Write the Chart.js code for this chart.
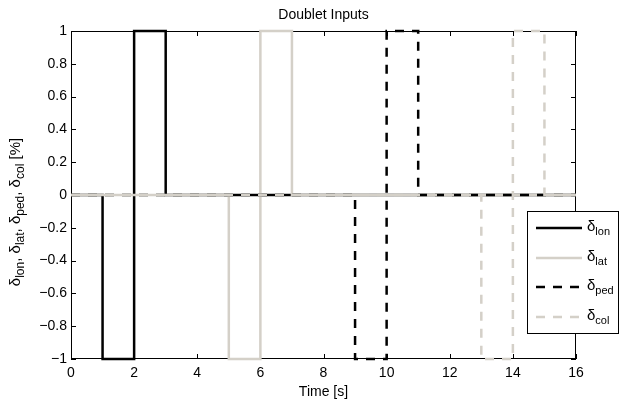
<!DOCTYPE html>
<html>
<head>
<meta charset="utf-8">
<script src="https://cdn.jsdelivr.net/npm/chart.js@4/dist/chart.umd.min.js"></script>
<style>
  html, body { margin: 0; padding: 0; background: #fff; }
  #wrap { width: 620px; height: 401px; position: relative; }
</style>
</head>
<body>
<div id="wrap"><canvas id="doublet"></canvas></div>
<script>
// Doublet inputs (step times in s, held values)
const lonT = [0, 1, 2, 3, 16];
const lonV = [0, -1, 1, 0, 0];
const latT = [0, 5, 6, 7, 16];
const latV = [0, -1, 1, 0, 0];
const pedT = [0, 9, 10, 11, 16];
const pedV = [0, -1, 1, 0, 0];
const colT = [0, 13, 14, 15, 16];
const colV = [0, -1, 1, 0, 0];

const xTicks = [0, 2, 4, 6, 8, 10, 12, 14, 16];
const yTicks = [-1, -0.8, -0.6, -0.4, -0.2, 0, 0.2, 0.4, 0.6, 0.8, 1];

const seriesNames = ['lon', 'lat', 'ped', 'col'];
const FONT = '"Liberation Sans", Arial, sans-serif';
const LIGHT = '#d4d0c8';

const pts = (t, v) => t.map((x, i) => ({ x: x, y: v[i] }));

const styles = [
    { color: '#000', width: 2.5, dash: [] },
    { color: LIGHT, width: 2.5, dash: [] },
    { color: '#000', width: 2.5, dash: [9, 8] },
    { color: LIGHT, width: 2.5, dash: [9, 8] }
];
const seriesData = [pts(lonT, lonV), pts(latT, latV), pts(pedT, pedV), pts(colT, colV)];

const fmt = v => {
    const s = (Math.round(v * 10) / 10).toString();
    return s.replace('-', '\u2212');
};

// draws "δ" + subscript runs starting at x (baseline y), returns end x
function drawDeltaText(ctx, parts, x, y, big, small) {
    parts.forEach(p => {
        ctx.font = (p.sub ? small : big) + 'px ' + FONT;
        ctx.fillText(p.t, x, y + (p.sub ? 4 : 0));
        x += ctx.measureText(p.t).width;
    });
    return x;
}

const matlabFrame = {
    id: 'matlabFrame',
    beforeDatasetsDraw(chart) {
        const { ctx, chartArea: a, scales } = chart;
        ctx.save();
        // axes box (under the lines, like the reference)
        ctx.strokeStyle = '#000';
        ctx.lineWidth = 1;
        ctx.setLineDash([]);
        ctx.strokeRect(a.left + 0.5, a.top + 0.5, a.right - a.left - 1, a.bottom - a.top - 1);
        // inward ticks on all sides
        ctx.beginPath();
        xTicks.forEach(v => {
            const px = Math.round(scales.x.getPixelForValue(v)) + 0.5;
            ctx.moveTo(px, a.bottom); ctx.lineTo(px, a.bottom - 5);
            ctx.moveTo(px, a.top); ctx.lineTo(px, a.top + 5);
        });
        yTicks.forEach(v => {
            const py = Math.round(scales.y.getPixelForValue(v)) + 0.5;
            ctx.moveTo(a.left, py); ctx.lineTo(a.left + 5, py);
            ctx.moveTo(a.right, py); ctx.lineTo(a.right - 5, py);
        });
        ctx.stroke();

        // title and x label
        ctx.fillStyle = '#000';
        ctx.font = '14px ' + FONT;
        ctx.textAlign = 'center';
        ctx.textBaseline = 'alphabetic';
        ctx.fillText('Doublet Inputs', (a.left + a.right) / 2, 19);
        ctx.fillText('Time [s]', (a.left + a.right) / 2, 396);

        // y label with subscripts
        const parts = [];
        seriesNames.forEach((n, i) => {
            parts.push({ t: (i ? ', ' : '') + '\u03b4', sub: false });
            parts.push({ t: n, sub: true });
        });
        parts.push({ t: ' [%]', sub: false });
        ctx.textAlign = 'left';
        let w = 0;
        parts.forEach(p => { ctx.font = (p.sub ? 12 : 15) + 'px ' + FONT; w += ctx.measureText(p.t).width; });
        ctx.translate(20, 212);
        ctx.rotate(-Math.PI / 2);
        drawDeltaText(ctx, parts, -w / 2, 0, 15, 12);
        ctx.restore();
    },
    afterDatasetsDraw(chart) {
        const { ctx } = chart;
        ctx.save();
        // legend
        const lx = 527, ly = 211, lw = 92, lh = 123;
        ctx.fillStyle = '#fff';
        ctx.fillRect(lx, ly, lw, lh);
        ctx.strokeStyle = '#000';
        ctx.lineWidth = 1;
        ctx.strokeRect(lx + 0.5, ly + 0.5, lw - 1, lh - 1);
        const rows = [228, 258, 287, 317];
        chart.data.datasets.forEach((ds, i) => {
            const y = rows[i];
            ctx.beginPath();
            ctx.strokeStyle = ds.borderColor;
            ctx.lineWidth = ds.borderWidth;
            ctx.setLineDash(ds.borderDash || []);
            ctx.moveTo(536, y); ctx.lineTo(582, y);
            ctx.stroke();
            ctx.setLineDash([]);
            ctx.fillStyle = '#000';
            ctx.textAlign = 'left';
            drawDeltaText(ctx, [{ t: '\u03b4', sub: false }, { t: seriesNames[i], sub: true }], 587, y + 3, 15, 11);
        });
        ctx.restore();
    }
};

new Chart(document.getElementById('doublet'), {
    type: 'line',
    data: {
        datasets: seriesData.map((d, i) => ({
            label: seriesNames[i],
            data: d,
            stepped: true,
            order: 3 - i,
            clip: 3,
            borderColor: styles[i].color,
            borderWidth: styles[i].width,
            borderDash: styles[i].dash,
            pointRadius: 0,
            fill: false
        }))
    },
    options: {
        responsive: true,
        maintainAspectRatio: false,
        animation: false,
        layout: { padding: { top: 31, right: 44, left: 0, bottom: 0 } },
        plugins: { legend: { display: false }, tooltip: { enabled: false } },
        scales: {
            x: {
                type: 'linear',
                min: 0, max: 16,
                afterBuildTicks: s => { s.ticks = xTicks.map(v => ({ value: v })); },
                afterFit: s => { s.height = 42; },
                grid: { display: false, drawTicks: false },
                border: { display: false },
                ticks: { color: '#000', font: { family: FONT, size: 14 }, padding: 6, maxRotation: 0, callback: v => fmt(v) }
            },
            y: {
                min: -1, max: 1,
                afterBuildTicks: s => { s.ticks = yTicks.map(v => ({ value: v })); },
                afterFit: s => { s.width = 71; },
                grid: { display: false, drawTicks: false },
                border: { display: false },
                ticks: { color: '#000', font: { family: FONT, size: 14 }, padding: 4, callback: v => fmt(v) }
            }
        }
    },
    plugins: [matlabFrame]
});
</script>
</body>
</html>
